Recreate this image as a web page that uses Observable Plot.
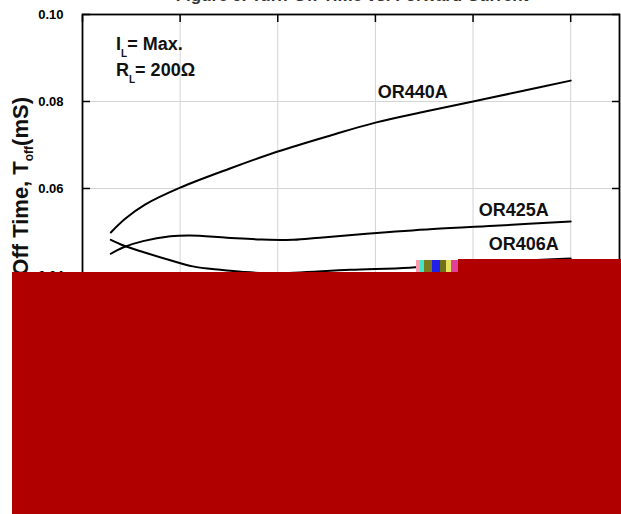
<!DOCTYPE html>
<html><head><meta charset="utf-8">
<script src="https://cdn.jsdelivr.net/npm/d3@7"></script>
<script src="https://cdn.jsdelivr.net/npm/@observablehq/plot@0.6"></script>
<style>
body{margin:0;background:#fff;}
#wrap{position:relative;width:621px;height:514px;overflow:hidden;background:#fff;}
.patch{position:absolute;}
</style></head><body><div id="wrap"></div>
<script>
// ---- data ----
const series = ["OR440A", "OR425A", "OR406A"];
const x440 = [2.9, 4.4, 6.4, 10, 15.1, 20, 25.4, 30.1, 35.1, 40, 44.8, 50];
const y440 = [0.0499, 0.0531, 0.0563, 0.0602, 0.0646, 0.0685, 0.0722, 0.0752, 0.0777, 0.0800, 0.0823, 0.0848];
const x425 = [2.9, 4.2, 6.2, 9, 11, 14.8, 18.2, 21.6, 24.3, 29.1, 35.9, 42.7, 50];
const y425 = [0.0450, 0.0465, 0.0479, 0.0490, 0.0492, 0.0487, 0.0483, 0.0482, 0.0487, 0.0496, 0.0507, 0.0515, 0.0524];
const x406 = [2.9, 4.2, 6.2, 9, 11.3, 14.1, 16.5, 19.9, 27.4, 33.5, 39.7, 50];
const y406 = [0.0482, 0.0469, 0.0454, 0.0435, 0.0421, 0.0413, 0.0408, 0.0405, 0.0413, 0.0418, 0.0428, 0.0439];
const xTicks = [0, 10, 20, 30, 40, 50];
const yTicks = [0, 0.02, 0.04, 0.06, 0.08, 0.10];
const titleText = "Figure 9. Turn-Off Time vs. Forward Current";
const yLabelMain = "Turn-Off Time, T";
const yLabelSub = "off";
const yLabelUnit = "(mS)";

// ---- build table ----
const xs = [x440, x425, x406], ys = [y440, y425, y406];
const rows = series.flatMap((s, k) => xs[k].map((x, i) => ({s, x, y: ys[k][i]})));
const ends = series.map((s, k) => ({s, x: xs[k][xs[k].length - 1], y: ys[k][ys[k].length - 1]}));
const labelOffset = {OR440A: [-123, 12], OR425A: [-22, -11], OR406A: [-12, -14]};

const F = "'Liberation Sans',Arial,sans-serif";

const plot = Plot.plot({
  width: 621, height: 514,
  marginLeft: 82, marginTop: 14, marginRight: 2, marginBottom: 65,
  style: {fontFamily: F, fontWeight: "bold", fontSize: "13px", color: "#000", background: "#fff", overflow: "visible"},
  x: {domain: [0, 55], ticks: xTicks, label: null},
  y: {domain: [0, 0.10], ticks: yTicks, label: null},
  marks: [
    Plot.gridX(xTicks, {stroke: "#d4d4d4", strokeOpacity: 1}),
    Plot.gridY(yTicks, {stroke: "#d4d4d4", strokeOpacity: 1}),
    Plot.axisY(yTicks, {anchor: "left", tickSize: 0, tickPadding: 19, tickFormat: ".2f", fontSize: 13, fontWeight: "bold"}),
    Plot.axisY(yTicks, {anchor: "left", tickSize: -8, tickFormat: () => "", strokeWidth: 1.5}),
    Plot.axisY(yTicks, {anchor: "right", tickSize: -8, tickFormat: () => "", strokeWidth: 1.5}),
    Plot.axisX(xTicks, {anchor: "top", tickSize: -7, tickFormat: () => "", strokeWidth: 1.5}),
    Plot.axisX(xTicks, {anchor: "bottom", tickSize: -7, tickPadding: 14, fontSize: 13, fontWeight: "bold"}),
    Plot.frame({stroke: "#000", strokeWidth: 1.8}),
    Plot.line(rows, {x: "x", y: "y", z: "s", curve: "catmull-rom", stroke: "#000", strokeWidth: 2}),
    ...ends.map(e => Plot.text([e], {x: "x", y: "y", text: "s", textAnchor: "end",
      dx: labelOffset[e.s][0], dy: labelOffset[e.s][1], fontSize: 18, fontWeight: "bold", fill: "#111"}))
  ]
});

const svg = d3.select(plot);
// title (only its lower edge is visible in the reference)
svg.append("text").attr("x", 352).attr("y", 1).attr("text-anchor", "middle")
  .attr("font-size", 17).attr("font-weight", "bold").attr("fill", "#333").text(titleText);
// rotated y label with subscript
const yl = svg.append("text").attr("transform", "translate(28,97) rotate(-90)")
  .attr("text-anchor", "end").attr("font-size", 22).attr("font-weight", "bold").attr("fill", "#111");
yl.append("tspan").text(yLabelMain);
yl.append("tspan").attr("font-size", 12).attr("dy", 5).text(yLabelSub);
yl.append("tspan").attr("dy", -5).text(yLabelUnit);
// condition annotation
const a1 = svg.append("text").attr("x", 116).attr("y", 50).attr("text-anchor", "start")
  .attr("font-size", 18).attr("font-weight", "bold").attr("fill", "#111");
a1.append("tspan").text("I");
a1.append("tspan").attr("font-size", 10).attr("dy", 7).text("L");
a1.append("tspan").attr("dy", -7).text("= Max.");
const a2 = svg.append("text").attr("x", 116).attr("y", 76).attr("text-anchor", "start")
  .attr("font-size", 18).attr("font-weight", "bold").attr("fill", "#111");
a2.append("tspan").text("R");
a2.append("tspan").attr("font-size", 10).attr("dy", 7).text("L");
a2.append("tspan").attr("dy", -7).text("= 200\u03A9");

const wrap = document.getElementById("wrap");
wrap.appendChild(plot);
// damaged region of the reference image (solid red block + glitch pixels)
const patches = [
  [12, 272, 609, 242, "#b00000"],
  [458, 259, 163, 14, "#b00000"],
  [416, 260, 4, 12, "#ff9ab0"],
  [420, 260, 4, 12, "#40e8c8"],
  [424, 260, 8, 12, "#7a7a20"],
  [432, 260, 8, 12, "#2020e8"],
  [440, 260, 6, 12, "#707018"],
  [446, 260, 5, 12, "#e8e060"],
  [451, 260, 7, 12, "#e0409a"]
];
for (const [l, t, w, h, c] of patches) {
  const d = document.createElement("div");
  d.className = "patch";
  Object.assign(d.style, {left: l + "px", top: t + "px", width: w + "px", height: h + "px", background: c});
  wrap.appendChild(d);
}
</script>
</body></html>
